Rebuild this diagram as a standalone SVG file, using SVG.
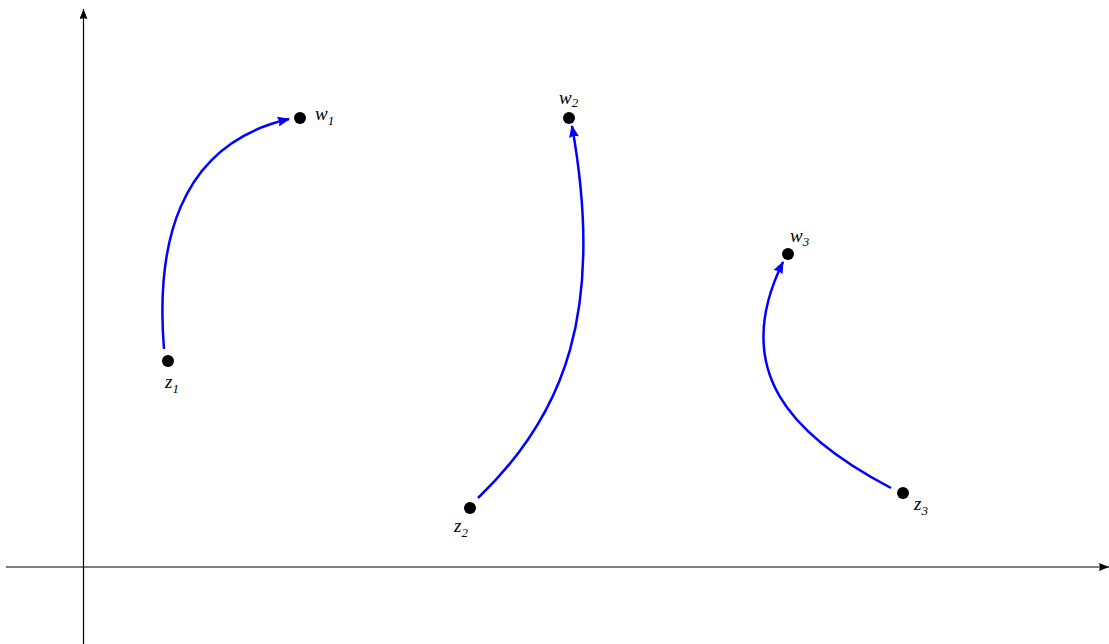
<svg xmlns="http://www.w3.org/2000/svg" width="1109" height="644" viewBox="0 0 1109 644">
<style>
.axis{stroke:#000;stroke-width:1.2;fill:none}
.curve{stroke:#0000ff;stroke-width:2.5;fill:none}
.dot{fill:#000}
.lbl{font-family:"Liberation Serif",serif;font-style:italic;font-size:19px;fill:#000}
.sub{font-size:13px}
</style>
<defs>
<marker id="ba" viewBox="0 0 10 8" refX="9" refY="4" markerWidth="15" markerHeight="10" markerUnits="userSpaceOnUse" orient="auto">
<path d="M0,0 L10,4 L0,8 L1,4 Z" fill="#0000ff"/>
</marker>
<marker id="ka" viewBox="0 0 10 8" refX="10" refY="4" markerWidth="13" markerHeight="8" markerUnits="userSpaceOnUse" orient="auto">
<path d="M0,0 L10,4 L0,8 L1,4 Z" fill="#000"/>
</marker>
</defs>
<rect width="1109" height="644" fill="#fff"/>
<g id="axes">
<line class="axis" x1="83.5" y1="644" x2="83.5" y2="9" marker-end="url(#ka)"/>
<line class="axis" x1="6" y1="567" x2="1109" y2="567" marker-end="url(#ka)"/>
</g>
<g id="connectors">
<path class="curve" d="M164,349 C156,250 175,145 289,119" marker-end="url(#ba)"/>
<path class="curve" d="M478,498 C565,415 605,310 572,126" marker-end="url(#ba)"/>
<path class="curve" d="M891,488 C790,435 730,370 783,262" marker-end="url(#ba)"/>
</g>
<g id="z1"><circle class="dot" cx="168" cy="361" r="6"/><text class="lbl" x="165" y="388">z<tspan class="sub" dy="5">1</tspan></text></g>
<g id="w1"><circle class="dot" cx="300" cy="118" r="6"/><text class="lbl" x="315" y="120">w<tspan class="sub" dy="5">1</tspan></text></g>
<g id="z2"><circle class="dot" cx="470" cy="508" r="6"/><text class="lbl" x="454" y="532">z<tspan class="sub" dy="5">2</tspan></text></g>
<g id="w2"><circle class="dot" cx="569" cy="118" r="6"/><text class="lbl" x="559" y="104">w<tspan class="sub" dy="3">2</tspan></text></g>
<g id="z3"><circle class="dot" cx="903" cy="493" r="6"/><text class="lbl" x="914" y="510">z<tspan class="sub" dy="5">3</tspan></text></g>
<g id="w3"><circle class="dot" cx="788" cy="254" r="6"/><text class="lbl" x="790" y="242">w<tspan class="sub" dy="4">3</tspan></text></g>
</svg>
